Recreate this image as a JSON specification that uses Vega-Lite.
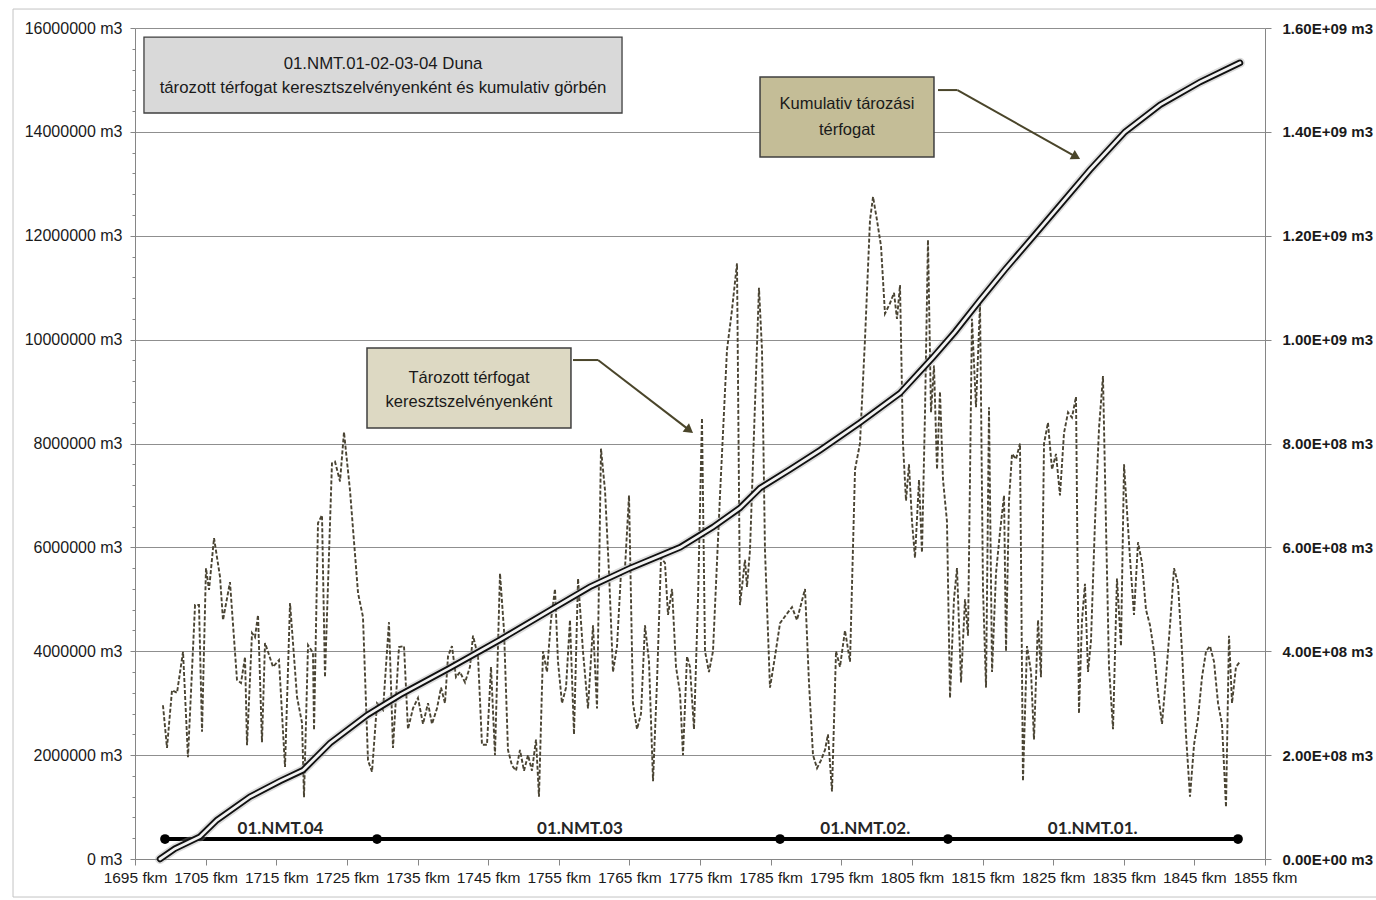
{
  "$schema": "https://vega.github.io/schema/vega-lite/v6.json",
  "width": 1130,
  "height": 831,
  "autosize": {"type": "none"},
  "padding": {"left": 135, "top": 28, "right": 111, "bottom": 41},
  "background": "white",
  "config": {
    "view": {"stroke": null},
    "font": "Liberation Sans",
    "axis": {"labelFont": "Liberation Sans", "labelColor": "#1a1a1a", "domainColor": "#868686", "tickColor": "#868686"}
  },
  "datasets": {
    "szelveny": [
      {"km": 1698.96, "volume": 2960000}, {"km": 1699.53, "volume": 2140000}, {"km": 1700.24, "volume": 3250000},
      {"km": 1700.95, "volume": 3200000}, {"km": 1701.80, "volume": 3990000}, {"km": 1702.50, "volume": 1960000},
      {"km": 1703.50, "volume": 4890000}, {"km": 1704.06, "volume": 4890000}, {"km": 1704.49, "volume": 2450000},
      {"km": 1705.05, "volume": 5600000}, {"km": 1705.48, "volume": 5180000}, {"km": 1706.19, "volume": 6180000},
      {"km": 1707.04, "volume": 5430000}, {"km": 1707.46, "volume": 4600000}, {"km": 1708.45, "volume": 5330000},
      {"km": 1709.44, "volume": 3450000}, {"km": 1710.01, "volume": 3390000}, {"km": 1710.58, "volume": 3890000},
      {"km": 1710.86, "volume": 2190000}, {"km": 1711.57, "volume": 4350000}, {"km": 1711.99, "volume": 4270000},
      {"km": 1712.42, "volume": 4700000}, {"km": 1712.98, "volume": 2250000}, {"km": 1713.41, "volume": 4160000},
      {"km": 1714.54, "volume": 3700000}, {"km": 1715.39, "volume": 3830000}, {"km": 1716.24, "volume": 1770000},
      {"km": 1716.95, "volume": 4930000}, {"km": 1717.94, "volume": 3120000}, {"km": 1718.65, "volume": 2620000},
      {"km": 1718.93, "volume": 1190000}, {"km": 1719.50, "volume": 4120000}, {"km": 1720.20, "volume": 3970000},
      {"km": 1720.35, "volume": 2480000}, {"km": 1720.91, "volume": 6470000}, {"km": 1721.48, "volume": 6620000},
      {"km": 1721.90, "volume": 3500000}, {"km": 1722.89, "volume": 7620000}, {"km": 1723.32, "volume": 7650000},
      {"km": 1724.03, "volume": 7270000}, {"km": 1724.59, "volume": 8220000}, {"km": 1725.44, "volume": 7100000},
      {"km": 1726.58, "volume": 5120000}, {"km": 1727.28, "volume": 4660000}, {"km": 1727.99, "volume": 1900000},
      {"km": 1728.56, "volume": 1680000}, {"km": 1729.27, "volume": 3000000}, {"km": 1730.12, "volume": 2870000},
      {"km": 1730.96, "volume": 4560000}, {"km": 1731.53, "volume": 2140000}, {"km": 1732.38, "volume": 4080000},
      {"km": 1733.09, "volume": 4100000}, {"km": 1733.65, "volume": 2500000}, {"km": 1734.36, "volume": 2900000},
      {"km": 1735.07, "volume": 3100000}, {"km": 1735.78, "volume": 2600000}, {"km": 1736.49, "volume": 3000000},
      {"km": 1737.05, "volume": 2600000}, {"km": 1737.76, "volume": 2900000}, {"km": 1738.33, "volume": 3300000},
      {"km": 1738.89, "volume": 3000000}, {"km": 1739.32, "volume": 3900000}, {"km": 1739.88, "volume": 4100000},
      {"km": 1740.45, "volume": 3500000}, {"km": 1741.02, "volume": 3600000}, {"km": 1741.73, "volume": 3400000},
      {"km": 1742.43, "volume": 3700000}, {"km": 1742.86, "volume": 4300000}, {"km": 1743.57, "volume": 3900000},
      {"km": 1744.13, "volume": 2200000}, {"km": 1744.84, "volume": 2200000}, {"km": 1745.41, "volume": 3700000},
      {"km": 1745.97, "volume": 2000000}, {"km": 1746.68, "volume": 5500000}, {"km": 1747.25, "volume": 4400000},
      {"km": 1747.81, "volume": 2100000}, {"km": 1748.38, "volume": 1800000}, {"km": 1748.95, "volume": 1700000},
      {"km": 1749.51, "volume": 2100000}, {"km": 1750.08, "volume": 1700000}, {"km": 1750.65, "volume": 2000000},
      {"km": 1751.21, "volume": 1700000}, {"km": 1751.78, "volume": 2300000}, {"km": 1752.20, "volume": 1200000},
      {"km": 1752.77, "volume": 4000000}, {"km": 1753.34, "volume": 3600000}, {"km": 1753.90, "volume": 4600000},
      {"km": 1754.47, "volume": 5200000}, {"km": 1754.89, "volume": 3800000}, {"km": 1755.46, "volume": 3000000},
      {"km": 1756.03, "volume": 3300000}, {"km": 1756.59, "volume": 4600000}, {"km": 1757.16, "volume": 2400000},
      {"km": 1757.73, "volume": 5400000}, {"km": 1758.43, "volume": 4000000}, {"km": 1759.14, "volume": 2900000},
      {"km": 1759.85, "volume": 4500000}, {"km": 1760.42, "volume": 2900000}, {"km": 1760.98, "volume": 7900000},
      {"km": 1761.55, "volume": 7100000}, {"km": 1762.12, "volume": 5500000}, {"km": 1762.68, "volume": 3600000},
      {"km": 1763.25, "volume": 4100000}, {"km": 1763.81, "volume": 5500000}, {"km": 1764.38, "volume": 5600000},
      {"km": 1764.95, "volume": 7000000}, {"km": 1765.51, "volume": 3000000}, {"km": 1766.08, "volume": 2500000},
      {"km": 1766.65, "volume": 2800000}, {"km": 1767.21, "volume": 4500000}, {"km": 1767.78, "volume": 3800000},
      {"km": 1768.35, "volume": 1500000}, {"km": 1768.91, "volume": 3400000}, {"km": 1769.48, "volume": 5800000},
      {"km": 1770.04, "volume": 5700000}, {"km": 1770.47, "volume": 4700000}, {"km": 1771.04, "volume": 5200000},
      {"km": 1771.60, "volume": 3700000}, {"km": 1772.17, "volume": 3200000}, {"km": 1772.59, "volume": 2000000},
      {"km": 1773.16, "volume": 3900000}, {"km": 1773.58, "volume": 3700000}, {"km": 1774.15, "volume": 2500000},
      {"km": 1774.72, "volume": 5000000}, {"km": 1775.28, "volume": 8490000}, {"km": 1775.71, "volume": 4000000},
      {"km": 1776.27, "volume": 3600000}, {"km": 1776.84, "volume": 4000000}, {"km": 1777.83, "volume": 7000000},
      {"km": 1778.82, "volume": 9800000}, {"km": 1779.53, "volume": 10570000}, {"km": 1780.24, "volume": 11470000},
      {"km": 1780.66, "volume": 4890000}, {"km": 1781.37, "volume": 5760000}, {"km": 1781.65, "volume": 5240000},
      {"km": 1782.08, "volume": 5950000}, {"km": 1783.35, "volume": 11000000}, {"km": 1783.78, "volume": 9800000},
      {"km": 1784.20, "volume": 5950000}, {"km": 1784.91, "volume": 3300000}, {"km": 1785.62, "volume": 3900000},
      {"km": 1786.33, "volume": 4540000}, {"km": 1787.18, "volume": 4700000}, {"km": 1788.03, "volume": 4850000},
      {"km": 1788.73, "volume": 4600000}, {"km": 1789.87, "volume": 5200000}, {"km": 1790.43, "volume": 3400000},
      {"km": 1791.00, "volume": 2000000}, {"km": 1791.57, "volume": 1750000}, {"km": 1792.13, "volume": 1900000},
      {"km": 1792.70, "volume": 2100000}, {"km": 1793.12, "volume": 2400000}, {"km": 1793.69, "volume": 1300000},
      {"km": 1794.26, "volume": 4000000}, {"km": 1794.82, "volume": 3700000}, {"km": 1795.53, "volume": 4400000},
      {"km": 1796.24, "volume": 3800000}, {"km": 1796.95, "volume": 7500000}, {"km": 1797.65, "volume": 8000000},
      {"km": 1798.36, "volume": 10000000}, {"km": 1799.07, "volume": 12300000}, {"km": 1799.50, "volume": 12750000},
      {"km": 1800.06, "volume": 12300000}, {"km": 1800.63, "volume": 11800000}, {"km": 1801.19, "volume": 10500000},
      {"km": 1801.90, "volume": 10700000}, {"km": 1802.47, "volume": 10900000}, {"km": 1802.89, "volume": 10400000},
      {"km": 1803.32, "volume": 11050000}, {"km": 1803.74, "volume": 8000000}, {"km": 1804.17, "volume": 6900000},
      {"km": 1804.59, "volume": 7600000}, {"km": 1805.02, "volume": 6500000}, {"km": 1805.44, "volume": 5800000},
      {"km": 1806.01, "volume": 7300000}, {"km": 1806.43, "volume": 5900000}, {"km": 1806.86, "volume": 8600000},
      {"km": 1807.28, "volume": 11920000}, {"km": 1807.71, "volume": 8600000}, {"km": 1808.13, "volume": 9500000},
      {"km": 1808.56, "volume": 7500000}, {"km": 1808.98, "volume": 9000000}, {"km": 1809.41, "volume": 7300000},
      {"km": 1809.97, "volume": 6500000}, {"km": 1810.40, "volume": 3100000}, {"km": 1810.96, "volume": 5000000},
      {"km": 1811.39, "volume": 5600000}, {"km": 1811.96, "volume": 3400000}, {"km": 1812.52, "volume": 5000000},
      {"km": 1812.95, "volume": 4300000}, {"km": 1813.51, "volume": 10400000}, {"km": 1814.08, "volume": 8700000},
      {"km": 1814.65, "volume": 10700000}, {"km": 1815.07, "volume": 5200000}, {"km": 1815.50, "volume": 3300000},
      {"km": 1815.92, "volume": 8700000}, {"km": 1816.35, "volume": 3600000}, {"km": 1816.91, "volume": 5500000},
      {"km": 1817.48, "volume": 6300000}, {"km": 1818.05, "volume": 7000000}, {"km": 1818.33, "volume": 4000000},
      {"km": 1818.75, "volume": 6900000}, {"km": 1819.18, "volume": 7800000}, {"km": 1819.75, "volume": 7700000},
      {"km": 1820.31, "volume": 8000000}, {"km": 1820.73, "volume": 1500000}, {"km": 1821.30, "volume": 4100000},
      {"km": 1821.87, "volume": 3600000}, {"km": 1822.29, "volume": 2300000}, {"km": 1822.86, "volume": 4600000},
      {"km": 1823.28, "volume": 3500000}, {"km": 1823.71, "volume": 8000000}, {"km": 1824.27, "volume": 8400000},
      {"km": 1824.84, "volume": 7500000}, {"km": 1825.41, "volume": 7800000}, {"km": 1825.97, "volume": 7000000},
      {"km": 1826.54, "volume": 8200000}, {"km": 1827.11, "volume": 8600000}, {"km": 1827.67, "volume": 8500000},
      {"km": 1828.24, "volume": 8900000}, {"km": 1828.66, "volume": 2800000}, {"km": 1829.09, "volume": 4600000},
      {"km": 1829.51, "volume": 5300000}, {"km": 1829.94, "volume": 3600000}, {"km": 1830.36, "volume": 4200000},
      {"km": 1830.93, "volume": 6500000}, {"km": 1831.50, "volume": 8300000}, {"km": 1832.06, "volume": 9300000},
      {"km": 1832.49, "volume": 6400000}, {"km": 1832.91, "volume": 3700000}, {"km": 1833.48, "volume": 2500000},
      {"km": 1834.04, "volume": 5400000}, {"km": 1834.61, "volume": 4100000}, {"km": 1835.04, "volume": 7600000},
      {"km": 1835.46, "volume": 6700000}, {"km": 1835.88, "volume": 5800000}, {"km": 1836.45, "volume": 4700000},
      {"km": 1837.02, "volume": 6100000}, {"km": 1837.58, "volume": 5700000}, {"km": 1838.15, "volume": 4800000},
      {"km": 1838.72, "volume": 4500000}, {"km": 1839.28, "volume": 4000000}, {"km": 1839.85, "volume": 3200000},
      {"km": 1840.42, "volume": 2600000}, {"km": 1840.98, "volume": 3500000}, {"km": 1841.55, "volume": 4500000},
      {"km": 1842.12, "volume": 5600000}, {"km": 1842.68, "volume": 5300000}, {"km": 1843.25, "volume": 4000000},
      {"km": 1843.81, "volume": 2400000}, {"km": 1844.38, "volume": 1200000}, {"km": 1844.95, "volume": 2200000},
      {"km": 1845.51, "volume": 2700000}, {"km": 1846.08, "volume": 3500000}, {"km": 1846.65, "volume": 4000000},
      {"km": 1847.21, "volume": 4100000}, {"km": 1847.78, "volume": 3800000}, {"km": 1848.35, "volume": 3000000},
      {"km": 1848.91, "volume": 2600000}, {"km": 1849.48, "volume": 1000000}, {"km": 1849.90, "volume": 4300000},
      {"km": 1850.33, "volume": 3000000}, {"km": 1850.89, "volume": 3700000}, {"km": 1851.46, "volume": 3800000}
    ],
    "kumulativ": [
      {"km": 1698.54, "cumulative": 0}, {"km": 1700.66, "cumulative": 20000000}, {"km": 1704.20, "cumulative": 43000000},
      {"km": 1706.61, "cumulative": 75000000}, {"km": 1711.28, "cumulative": 120000000}, {"km": 1715.53, "cumulative": 150000000},
      {"km": 1718.79, "cumulative": 171000000}, {"km": 1722.61, "cumulative": 223000000}, {"km": 1727.85, "cumulative": 277000000},
      {"km": 1732.52, "cumulative": 316000000}, {"km": 1739.60, "cumulative": 368000000}, {"km": 1746.68, "cumulative": 422000000},
      {"km": 1753.76, "cumulative": 479000000}, {"km": 1759.42, "cumulative": 524000000}, {"km": 1765.09, "cumulative": 560000000},
      {"km": 1772.17, "cumulative": 600000000}, {"km": 1776.84, "cumulative": 639000000}, {"km": 1780.66, "cumulative": 676000000},
      {"km": 1783.50, "cumulative": 714000000}, {"km": 1787.74, "cumulative": 750000000}, {"km": 1791.99, "cumulative": 787000000},
      {"km": 1797.65, "cumulative": 840000000}, {"km": 1803.32, "cumulative": 897000000}, {"km": 1807.99, "cumulative": 966000000},
      {"km": 1811.11, "cumulative": 1015000000}, {"km": 1814.65, "cumulative": 1076000000}, {"km": 1818.19, "cumulative": 1135000000},
      {"km": 1822.15, "cumulative": 1198000000}, {"km": 1825.97, "cumulative": 1259000000}, {"km": 1830.22, "cumulative": 1327000000},
      {"km": 1835.18, "cumulative": 1400000000}, {"km": 1840.13, "cumulative": 1452000000}, {"km": 1845.80, "cumulative": 1496000000},
      {"km": 1851.46, "cumulative": 1533000000}
    ],
    "hatarok": [
      {"km": 1699.25}, {"km": 1729.27}, {"km": 1786.33}, {"km": 1810.11}, {"km": 1851.18}
    ],
    "szakaszok": [
      {"km": 1715.6, "name": "01.NMT.04"},
      {"km": 1758.0, "name": "01.NMT.03"},
      {"km": 1798.4, "name": "01.NMT.02."},
      {"km": 1830.6, "name": "01.NMT.01."}
    ]
  },
  "layer": [
    {
      "layer": [
        {
          "data": {"name": "szelveny"},
          "mark": {"type": "line", "color": "#4a4433", "strokeWidth": 1.9, "strokeDash": [4, 2], "strokeCap": "butt", "strokeJoin": "miter"},
          "encoding": {
            "x": {
              "field": "km", "type": "quantitative",
              "scale": {"domain": [1695, 1855], "nice": false, "zero": false},
              "axis": {
                "title": null,
                "values": [1695, 1700, 1705, 1710, 1715, 1720, 1725, 1730, 1735, 1740, 1745, 1750, 1755, 1760, 1765, 1770, 1775, 1780, 1785, 1790, 1795, 1800, 1805, 1810, 1815, 1820, 1825, 1830, 1835, 1840, 1845, 1850, 1855],
                "labelExpr": "(datum.value - 1695) % 10 == 0 ? datum.value + ' fkm' : ''",
                "labelOverlap": false,
                "labelFlush": false,
                "labelBound": false,
                "labelFontSize": 15.5,
                "labelPadding": 5,
                "tickSize": 6,
                "grid": false
              }
            },
            "y": {
              "field": "volume", "type": "quantitative",
              "scale": {"domain": [0, 16000000], "nice": false},
              "axis": {
                "title": null,
                "values": [0, 2000000, 4000000, 6000000, 8000000, 10000000, 12000000, 14000000, 16000000],
                "labelExpr": "datum.value + ' m3'",
                "labelFontSize": 16,
                "labelPadding": 8,
                "labelFlush": false,
                "tickSize": 5,
                "grid": true,
                "gridColor": "#8f8f8f",
                "gridWidth": 1
              }
            }
          }
        },
        {
          "data": {"values": [{}]},
          "mark": {"type": "rect", "fill": "#d9d9d9", "stroke": "#3f3f3f", "strokeWidth": 1.3},
          "encoding": {
            "x": {"datum": 1696.27, "type": "quantitative", "axis": {"title": null}},
            "x2": {"datum": 1763.96},
            "y": {"datum": 15826000, "type": "quantitative", "axis": {"title": null}},
            "y2": {"datum": 14363000}
          }
        },
        {
          "data": {"values": [{}]},
          "mark": {"type": "text", "text": "01.NMT.01-02-03-04  Duna", "fontSize": 16.8, "color": "#1a1a1a", "align": "center", "baseline": "middle"},
          "encoding": {
            "x": {"datum": 1730.12, "type": "quantitative", "axis": {"title": null}},
            "y": {"datum": 15306000, "type": "quantitative", "axis": {"title": null}}
          }
        },
        {
          "data": {"values": [{}]},
          "mark": {"type": "text", "text": "tározott  térfogat  keresztszelvényenként  és kumulativ  görbén", "fontSize": 16.8, "color": "#1a1a1a", "align": "center", "baseline": "middle"},
          "encoding": {
            "x": {"datum": 1730.12, "type": "quantitative", "axis": {"title": null}},
            "y": {"datum": 14844000, "type": "quantitative", "axis": {"title": null}}
          }
        },
        {
          "data": {"values": [{}]},
          "mark": {"type": "rect", "fill": "#ddd9c3", "stroke": "#3f3f3f", "strokeWidth": 1.5},
          "encoding": {
            "x": {"datum": 1727.85, "type": "quantitative", "axis": {"title": null}},
            "x2": {"datum": 1756.73},
            "y": {"datum": 9838000, "type": "quantitative", "axis": {"title": null}},
            "y2": {"datum": 8298000}
          }
        },
        {
          "data": {"values": [{}]},
          "mark": {"type": "text", "text": "Tározott  térfogat", "fontSize": 16.5, "color": "#1a1a1a", "align": "center", "baseline": "middle"},
          "encoding": {
            "x": {"datum": 1742.29, "type": "quantitative", "axis": {"title": null}},
            "y": {"datum": 9260000, "type": "quantitative", "axis": {"title": null}}
          }
        },
        {
          "data": {"values": [{}]},
          "mark": {"type": "text", "text": "keresztszelvényenként", "fontSize": 16.5, "color": "#1a1a1a", "align": "center", "baseline": "middle"},
          "encoding": {
            "x": {"datum": 1742.29, "type": "quantitative", "axis": {"title": null}},
            "y": {"datum": 8800000, "type": "quantitative", "axis": {"title": null}}
          }
        },
        {
          "data": {"values": [{}]},
          "mark": {"type": "rect", "fill": "#c4bd97", "stroke": "#3f3f3f", "strokeWidth": 1.5},
          "encoding": {
            "x": {"datum": 1783.5, "type": "quantitative", "axis": {"title": null}},
            "x2": {"datum": 1808.13},
            "y": {"datum": 15056000, "type": "quantitative", "axis": {"title": null}},
            "y2": {"datum": 13516000}
          }
        },
        {
          "data": {"values": [{}]},
          "mark": {"type": "text", "text": "Kumulativ  tározási", "fontSize": 16.5, "color": "#1a1a1a", "align": "center", "baseline": "middle"},
          "encoding": {
            "x": {"datum": 1795.81, "type": "quantitative", "axis": {"title": null}},
            "y": {"datum": 14536000, "type": "quantitative", "axis": {"title": null}}
          }
        },
        {
          "data": {"values": [{}]},
          "mark": {"type": "text", "text": "térfogat", "fontSize": 16.5, "color": "#1a1a1a", "align": "center", "baseline": "middle"},
          "encoding": {
            "x": {"datum": 1795.81, "type": "quantitative", "axis": {"title": null}},
            "y": {"datum": 14035000, "type": "quantitative", "axis": {"title": null}}
          }
        },
        {
          "data": {"values": [{}]},
          "mark": {"type": "rule", "color": "#4a452a", "strokeWidth": 2},
          "encoding": {
            "x": {"datum": 1757.02, "type": "quantitative", "axis": {"title": null}},
            "x2": {"datum": 1760.56},
            "y": {"datum": 9607000, "type": "quantitative", "axis": {"title": null}},
            "y2": {"datum": 9607000}
          }
        },
        {
          "data": {"values": [{}]},
          "mark": {"type": "rule", "color": "#4a452a", "strokeWidth": 2},
          "encoding": {
            "x": {"datum": 1760.56, "type": "quantitative", "axis": {"title": null}},
            "x2": {"datum": 1773.12},
            "y": {"datum": 9607000, "type": "quantitative", "axis": {"title": null}},
            "y2": {"datum": 8296000}
          }
        },
        {
          "data": {"values": [{}]},
          "mark": {"type": "point", "shape": "triangle", "filled": true, "angle": 127.5, "size": 110, "color": "#4a452a", "opacity": 1},
          "encoding": {
            "x": {"datum": 1773.33, "type": "quantitative", "axis": {"title": null}},
            "y": {"datum": 8273000, "type": "quantitative", "axis": {"title": null}}
          }
        },
        {
          "data": {"values": [{}]},
          "mark": {"type": "rule", "color": "#4a452a", "strokeWidth": 2},
          "encoding": {
            "x": {"datum": 1808.7, "type": "quantitative", "axis": {"title": null}},
            "x2": {"datum": 1811.46},
            "y": {"datum": 14805000, "type": "quantitative", "axis": {"title": null}},
            "y2": {"datum": 14805000}
          }
        },
        {
          "data": {"values": [{}]},
          "mark": {"type": "rule", "color": "#4a452a", "strokeWidth": 2},
          "encoding": {
            "x": {"datum": 1811.46, "type": "quantitative", "axis": {"title": null}},
            "x2": {"datum": 1827.81},
            "y": {"datum": 14805000, "type": "quantitative", "axis": {"title": null}},
            "y2": {"datum": 13552000}
          }
        },
        {
          "data": {"values": [{}]},
          "mark": {"type": "point", "shape": "triangle", "filled": true, "angle": 119.4, "size": 110, "color": "#4a452a", "opacity": 1},
          "encoding": {
            "x": {"datum": 1828.07, "type": "quantitative", "axis": {"title": null}},
            "y": {"datum": 13533000, "type": "quantitative", "axis": {"title": null}}
          }
        },
        {
          "data": {"name": "hatarok"},
          "mark": {"type": "line", "color": "#000000", "strokeWidth": 4},
          "encoding": {
            "x": {"field": "km", "type": "quantitative", "axis": {"title": null}},
            "y": {"datum": 385000, "type": "quantitative", "axis": {"title": null}}
          }
        },
        {
          "data": {"name": "hatarok"},
          "mark": {"type": "point", "filled": true, "color": "#000000", "size": 95, "opacity": 1},
          "encoding": {
            "x": {"field": "km", "type": "quantitative", "axis": {"title": null}},
            "y": {"datum": 385000, "type": "quantitative", "axis": {"title": null}}
          }
        },
        {
          "data": {"name": "szakaszok"},
          "mark": {"type": "text", "font": "Lato", "fontWeight": "bold", "fontSize": 17, "color": "#262626", "align": "center", "baseline": "alphabetic", "dy": -5},
          "encoding": {
            "x": {"field": "km", "type": "quantitative", "axis": {"title": null}},
            "y": {"datum": 385000, "type": "quantitative", "axis": {"title": null}},
            "text": {"field": "name"}
          }
        }
      ]
    },
    {
      "data": {"name": "kumulativ"},
      "encoding": {
        "x": {"field": "km", "type": "quantitative", "axis": {"title": null}}
      },
      "layer": [
        {
          "mark": {"type": "line", "color": "#9a9a9a", "strokeWidth": 10, "opacity": 0.35, "strokeCap": "round"},
          "encoding": {
            "y": {
              "field": "cumulative", "type": "quantitative",
              "scale": {"domain": [0, 1600000000], "nice": false},
              "axis": {
                "orient": "right",
                "title": null,
                "values": [0, 200000000, 400000000, 600000000, 800000000, 1000000000, 1200000000, 1400000000, 1600000000],
                "labelExpr": "datum.value == 0 ? '0.00E+00 m3' : (datum.value < 1000000000 ? format(datum.value / 100000000, '.2f') + 'E+08 m3' : format(datum.value / 1000000000, '.2f') + 'E+09 m3')",
                "labelFontSize": 15,
                "labelFontWeight": "bold",
                "labelPadding": 11,
                "labelFlush": false,
                "tickSize": 6,
                "grid": false
              }
            }
          }
        },
        {
          "mark": {"type": "line", "color": "#111111", "strokeWidth": 6.5, "strokeCap": "round"},
          "encoding": {"y": {"field": "cumulative", "type": "quantitative", "axis": {"title": null}}}
        },
        {
          "mark": {"type": "line", "color": "#f2f2f2", "strokeWidth": 2.8, "strokeCap": "round"},
          "encoding": {"y": {"field": "cumulative", "type": "quantitative", "axis": {"title": null}}}
        }
      ]
    },
    {
      "data": {"values": [{}]},
      "mark": {"type": "rect", "fill": null, "stroke": "#c4c4c4", "strokeWidth": 1},
      "encoding": {
        "x": {"datum": 1677.73, "type": "quantitative", "axis": {"title": null}},
        "x2": {"datum": 1871.3},
        "y": {
          "datum": 16365000, "type": "quantitative",
          "scale": {"domain": [0, 16000000], "nice": false},
          "axis": {
            "orient": "left",
            "title": null,
            "values": [400000, 800000, 1200000, 1600000, 2400000, 2800000, 3200000, 3600000, 4400000, 4800000, 5200000, 5600000, 6400000, 6800000, 7200000, 7600000, 8400000, 8800000, 9200000, 9600000, 10400000, 10800000, 11200000, 11600000, 12400000, 12800000, 13200000, 13600000, 14400000, 14800000, 15200000, 15600000],
            "labels": false,
            "domain": false,
            "grid": false,
            "tickSize": 3
          }
        },
        "y2": {"datum": -732000}
      }
    }
  ],
  "resolve": {"scale": {"y": "independent"}}
}
